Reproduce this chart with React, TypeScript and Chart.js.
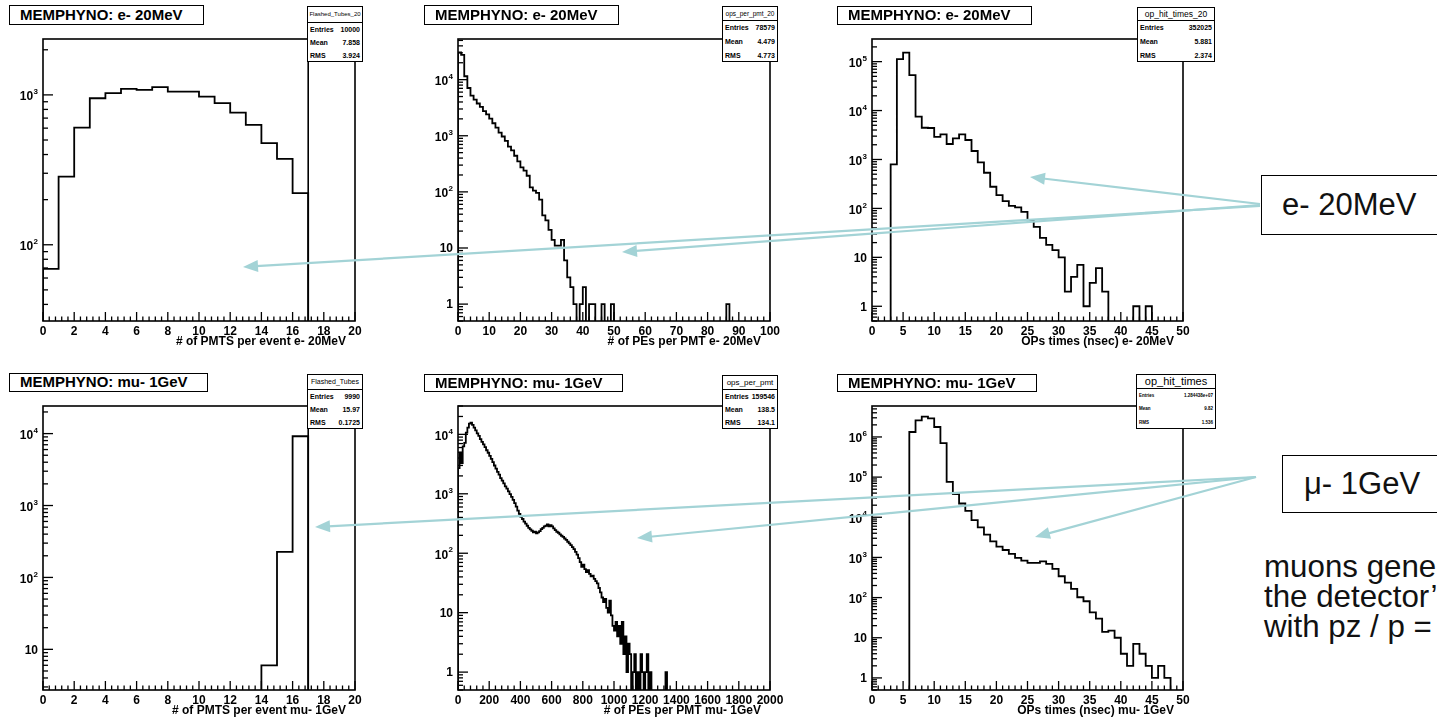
import React, { useEffect, useRef } from 'react';
import { Chart, registerables } from 'chart.js';

Chart.register(...registerables);

const FONT = '"Liberation Sans", Arial, Helvetica, sans-serif';

// ---------------- data (bin contents) ----------------
// # of PMTS per event, e- 20MeV : bins of width 1 from 0 to 20
const pmtsE20 = [69, 285, 605, 950, 1026, 1096, 1080, 1125, 1052, 1052, 975, 880, 762, 631, 476, 374, 221, 0, 0, 0];

// # of PEs per PMT, e- 20MeV : bins of width 1 from 0 to 100
const pesE20 = [
  30500, 27700, 11500, 7100, 5200, 4400, 3760, 3280, 2750, 2400,
  2020, 1670, 1400, 1140, 970, 810, 640, 550, 440, 350,
  273, 240, 194, 120, 105, 96, 73, 38, 31, 21,
  14, 11, 11, 14, 6, 3, 2, 1, 0, 1,
  2, 0, 1, 1, 0, 0, 1, 0, 0, 1,
  0, 0, 0, 0, 0, 0, 0, 0, 0, 0,
  0, 0, 0, 0, 0, 0, 0, 0, 0, 0,
  0, 0, 0, 0, 0, 0, 0, 0, 0, 0,
  0, 0, 0, 0, 0, 0, 1, 0, 0, 0,
  0, 0, 0, 0, 0, 0, 0, 0, 0, 0,
];

// OPs times (nsec), e- 20MeV : bins of width 1 from 0 to 50
const timesE20 = [
  0, 0, 0, 792, 112000, 153000, 53000, 7500, 4450, 4400,
  2900, 3260, 2070, 2700, 3260, 2500, 1490, 871, 535, 277,
  187, 141, 113, 105, 85, 57, 42, 25, 18, 14,
  10, 2, 4, 7, 1, 3, 6, 2, 0, 0,
  0, 0, 1, 0, 1, 0, 0, 0, 0, 0,
];

// # of PMTS per event, mu- 1GeV : bins of width 1 from 0 to 20
const pmtsMu1 = [0, 0, 0, 0, 0, 0, 0, 0, 0, 0, 0, 0, 0, 0, 6, 227, 9180, 0, 0, 0];

// # of PEs per PMT, mu- 1GeV : bins of width 10 from 0 to 2000
const pesMu1 = [
  2700, 4900, 3300, 6300, 7200, 10700, 13000, 15200, 15800, 14400,
  13000, 11700, 10400, 9400, 8300, 7500, 6800, 6100, 5400, 4900,
  4350, 3870, 3400, 2990, 2650, 2330, 2100, 1840, 1660, 1500,
  1330, 1220, 1100, 990, 890, 790, 695, 610, 520, 460,
  410, 377, 340, 314, 290, 268, 252, 239, 224, 230,
  215, 224, 236, 255, 268, 283, 290, 306, 283, 298,
  283, 262, 245, 230, 221, 207, 197, 189, 177, 168,
  156, 146, 137, 127, 117, 105, 95, 83, 71, 59,
  64, 54, 48, 52, 45, 41, 42, 37, 34, 31,
  26, 22, 18, 15, 17, 12, 10, 16, 9, 6,
  5, 7, 4, 6, 3, 7, 2, 4, 1, 3,
  2, 0, 1, 2, 0, 1, 0, 2, 1, 0,
  1, 2, 0, 1, 0, 0, 0, 0, 0, 0,
  0, 0, 0, 1, 0, 0, 0, 0, 0, 0,
  0, 0, 0, 0, 0, 0, 0, 0, 0, 0,
  0, 0, 0, 0, 0, 0, 0, 0, 0, 0,
  0, 0, 0, 0, 0, 0, 0, 0, 0, 0,
  0, 0, 0, 0, 0, 0, 0, 0, 0, 0,
  0, 0, 0, 0, 0, 0, 0, 0, 0, 0,
  0, 0, 0, 0, 0, 0, 0, 0, 0, 0,
];

// OPs times (nsec), mu- 1GeV : bins of width 1 from 0 to 50
const timesMu1 = [
  0, 0, 0, 0, 0, 0, 1330000, 2600000, 3200000, 2900000,
  1770000, 700000, 76000, 38000, 22000, 14500, 8500, 5600, 3700, 2500,
  1850, 1530, 1220, 970, 834, 730, 730, 800, 690, 518,
  340, 237, 165, 102, 81, 43, 30, 14, 15, 10,
  4, 2, 7, 4, 2, 1, 2, 1, 0, 0,
];

// text content
const panelTitles = [
  'MEMPHYNO: e- 20MeV', 'MEMPHYNO: e- 20MeV', 'MEMPHYNO: e- 20MeV',
  'MEMPHYNO: mu- 1GeV', 'MEMPHYNO: mu- 1GeV', 'MEMPHYNO: mu- 1GeV',
];
const xTitles = [
  '# of PMTS per event e- 20MeV', '# of PEs per PMT e- 20MeV', 'OPs times (nsec) e- 20MeV',
  '# of PMTS per event mu- 1GeV', '# of PEs per PMT mu- 1GeV', 'OPs times (nsec) mu- 1GeV',
];
const statNames = ['Flashed_Tubes_20', 'ops_per_pmt_20', 'op_hit_times_20', 'Flashed_Tubes', 'ops_per_pmt', 'op_hit_times'];
const statEntries = ['10000', '78579', '352025', '9990', '159546', '1.284438e+07'];
const statMeans = ['7.858', '4.479', '5.881', '15.97', '138.5', '9.82'];
const statRms = ['3.924', '4.773', '2.374', '0.1725', '134.1', '1.536'];
const binValues = [pmtsE20, pesE20, timesE20, pmtsMu1, pesMu1, timesMu1];
const binWidths = [1, 1, 1, 1, 10, 1];
const xRanges = [[0, 20], [0, 100], [0, 50], [0, 20], [0, 2000], [0, 50]];
const xMajorSteps = [2, 10, 5, 2, 200, 5];
const xMinorSteps = [0.4, 2, 1, 0.4, 40, 1];
const yRanges = [[31, 2360], [0.5, 53000], [0.5, 290000], [2.72, 24200], [0.5, 30000], [0.5, 5900000]];
const markerXs = [17, null, null, 17, null, null];

// annotation text
const particleLabels = ['e- 20MeV', 'μ- 1GeV'];
const noteLines = ['muons gene', 'the detector’', 'with pz / p ='];

// ---------------- layout (page pixels) ----------------
const frames = [
  [43, 39, 355, 321], [458, 39, 770, 321], [872, 39, 1183, 321],
  [43, 406, 355, 690], [458, 406, 770, 690], [872, 406, 1183, 690],
];
const titleBoxes = [
  [9, 5, 195, 20], [424, 5, 195, 20], [837, 6, 195, 19],
  [9, 373, 199, 19], [424, 374, 199, 18], [837, 374, 200, 18],
];
// l, t, w, h, separator height, name font, row font
const statBoxes = [
  [307, 6, 56, 56, 15, 6, 7], [722, 6, 56, 56, 13, 6.5, 7], [1137, 7, 78, 55, 12, 8.5, 7],
  [307, 374, 56, 55, 14, 7, 7], [722, 375, 56, 54, 13, 8, 7], [1136, 374, 80, 55, 13, 11, 4.5],
];

const PAD_T = 16, PAD_R = 20, Y_W = 50, X_H = 34;

function drawLogLabel(ctx: CanvasRenderingContext2D, e: number, right: number, py: number) {
  ctx.textBaseline = 'middle';
  ctx.textAlign = 'right';
  if (e === 0 || e === 1) {
    ctx.font = `bold 12px ${FONT}`;
    ctx.fillText(e === 0 ? '1' : '10', right, py + 1);
    return;
  }
  ctx.font = `bold 8px ${FONT}`;
  const es = String(e);
  const ew = ctx.measureText(es).width;
  ctx.fillText(es, right, py - 3);
  ctx.font = `bold 12px ${FONT}`;
  ctx.fillText('10', right - ew - 0.5, py + 2);
}

function histPoints(bins: number[], lo: number, w: number, floor: number) {
  const pts: { x: number; y: number }[] = [{ x: lo, y: floor }];
  bins.forEach((v, i) => pts.push({ x: lo + i * w, y: v > 0 ? v : floor }));
  const last = bins[bins.length - 1];
  pts.push({ x: lo + bins.length * w, y: last > 0 ? last : floor });
  pts.push({ x: lo + bins.length * w, y: floor });
  return pts;
}

function Panel({ i }: { i: number }) {
  const ref = useRef<HTMLCanvasElement>(null);
  const [l, t, r, b] = frames[i];
  const cw = r - l + Y_W + PAD_R;
  const ch = b - t + PAD_T + X_H;

  useEffect(() => {
    const [xMin, xMax] = xRanges[i];
    const [yMin, yMax] = yRanges[i];
    const xMajor = xMajorSteps[i];
    const xMinor = xMinorSteps[i];
    const markerX = markerXs[i];
    const xTitle = xTitles[i];

    const rootPlugin = {
      id: 'rootStyle',
      afterDraw(chart: any) {
        const { ctx, chartArea: a } = chart;
        const xs = chart.scales.x;
        const ys = chart.scales.y;
        ctx.save();
        ctx.strokeStyle = '#000';
        ctx.fillStyle = '#000';
        const seg = (x1: number, y1: number, x2: number, y2: number) => {
          ctx.beginPath();
          ctx.moveTo(x1, y1);
          ctx.lineTo(x2, y2);
          ctx.stroke();
        };
        ctx.lineWidth = 1.6;
        if (markerX !== null) {
          const px = xs.getPixelForValue(markerX);
          seg(px, a.top, px, a.bottom);
        }
        ctx.strokeRect(a.left, a.top, a.right - a.left, a.bottom - a.top);
        ctx.lineWidth = 1.3;
        const nMinor = Math.round((xMax - xMin) / xMinor);
        const per = Math.round(xMajor / xMinor);
        for (let k = 0; k <= nMinor; k++) {
          const px = xs.getPixelForValue(xMin + k * xMinor);
          seg(px, a.bottom, px, a.bottom - (k % per === 0 ? 9 : 4.5));
        }
        const e0 = Math.floor(Math.log10(yMin));
        const e1 = Math.ceil(Math.log10(yMax));
        for (let e = e0; e <= e1; e++) {
          for (let m = 1; m <= 9; m++) {
            const v = m * Math.pow(10, e);
            if (v < yMin * 0.999 || v > yMax) continue;
            const py = ys.getPixelForValue(v);
            seg(a.left, py, a.left + (m === 1 ? 10 : 5), py);
            if (m === 1) drawLogLabel(ctx, e, a.left - 5, py);
          }
        }
        ctx.font = `bold 12px ${FONT}`;
        ctx.textAlign = 'right';
        ctx.textBaseline = 'middle';
        ctx.fillText(xTitle, a.right - 9, a.bottom + 21);
        ctx.restore();
      },
    };

    const chart = new Chart(ref.current as HTMLCanvasElement, {
      type: 'line',
      data: {
        datasets: [
          {
            data: histPoints(binValues[i], xMin, binWidths[i], yMin / 1000),
            stepped: 'before',
            borderColor: '#000',
            borderWidth: 1.8,
            pointRadius: 0,
            fill: false,
            tension: 0,
          },
        ],
      },
      options: {
        responsive: false,
        maintainAspectRatio: false,
        animation: false,
        events: [],
        layout: { padding: { top: PAD_T, right: PAD_R, left: 0, bottom: 0 } },
        plugins: { legend: { display: false }, tooltip: { enabled: false } },
        scales: {
          x: {
            type: 'linear',
            min: xMin,
            max: xMax,
            afterFit: (s: any) => { s.height = X_H; },
            grid: { display: false, drawTicks: false },
            border: { display: false },
            ticks: {
              stepSize: xMajor,
              autoSkip: false,
              maxRotation: 0,
              minRotation: 0,
              padding: 3,
              color: '#000',
              font: { family: FONT, size: 12, weight: 'bold' },
              callback: (v: any) => String(v),
            },
          },
          y: {
            type: 'logarithmic',
            min: yMin,
            max: yMax,
            afterFit: (s: any) => { s.width = Y_W; },
            grid: { display: false, drawTicks: false },
            border: { display: false },
            ticks: { display: false },
          },
        },
      } as any,
      plugins: [rootPlugin],
    });
    return () => chart.destroy();
  }, [i]);

  return (
    <canvas
      ref={ref}
      width={cw}
      height={ch}
      style={{ position: 'absolute', left: l - Y_W, top: t - PAD_T, width: cw, height: ch }}
    />
  );
}

function TitleBox({ i }: { i: number }) {
  const [l, t, w, h] = titleBoxes[i];
  return (
    <div
      style={{
        position: 'absolute', left: l, top: t, width: w, height: h, boxSizing: 'border-box',
        border: '1.5px solid #000', background: '#fff', fontFamily: FONT, fontWeight: 'bold',
        fontSize: 15, lineHeight: `${h - 3}px`, paddingLeft: 10, whiteSpace: 'nowrap', overflow: 'hidden',
      }}
    >
      {panelTitles[i]}
    </div>
  );
}

function StatsBox({ i }: { i: number }) {
  const [l, t, w, h, sep, nameSize, rowSize] = statBoxes[i];
  const rowH = (h - sep - 2) / 3;
  const rows = [['Entries', statEntries[i]], ['Mean', statMeans[i]], ['RMS', statRms[i]]];
  return (
    <div
      style={{
        position: 'absolute', left: l, top: t, width: w, height: h, boxSizing: 'border-box',
        border: '1.4px solid #000', background: '#fff', fontFamily: FONT, overflow: 'hidden',
      }}
    >
      <div
        style={{
          height: sep, borderBottom: '1px solid #000', fontSize: nameSize, lineHeight: `${sep}px`,
          textAlign: 'center', whiteSpace: 'nowrap', overflow: 'hidden',
        }}
      >
        {statNames[i]}
      </div>
      {rows.map(([k, v]) => (
        <div
          key={k}
          style={{
            height: rowH, display: 'flex', justifyContent: 'space-between', alignItems: 'center',
            padding: '0 2px', fontSize: rowSize, fontWeight: 'bold', whiteSpace: 'nowrap',
          }}
        >
          <span>{k}</span>
          <span>{v}</span>
        </div>
      ))}
    </div>
  );
}

const ARROW_COLOR = '#a3d3d6';
const arrowLines = [
  [1260, 204, 1030, 177],
  [1260, 205, 622, 252],
  [1260, 206, 243, 267],
  [1256, 477, 315, 527],
  [1256, 477, 637, 538],
  [1256, 477, 1035, 537],
];

function Arrows() {
  return (
    <svg width={1437} height={720} style={{ position: 'absolute', left: 0, top: 0, pointerEvents: 'none' }}>
      {arrowLines.map(([x1, y1, x2, y2], k) => {
        const dx = x2 - x1, dy = y2 - y1;
        const L = Math.hypot(dx, dy);
        const ux = dx / L, uy = dy / L;
        const len = 15, half = 6;
        const bx = x2 - ux * len, by = y2 - uy * len;
        const px = -uy, py = ux;
        const head = `${x2},${y2} ${bx + px * half},${by + py * half} ${bx - px * half},${by - py * half}`;
        return (
          <g key={k}>
            <line x1={x1} y1={y1} x2={bx + ux * 2} y2={by + uy * 2} stroke={ARROW_COLOR} strokeWidth={2.2} />
            <polygon points={head} fill={ARROW_COLOR} />
          </g>
        );
      })}
    </svg>
  );
}

function Annotations() {
  const boxStyle: React.CSSProperties = {
    position: 'absolute', boxSizing: 'border-box', border: '1.5px solid #000', background: '#fff',
    fontFamily: FONT, fontSize: 31, whiteSpace: 'nowrap', color: '#111',
  };
  return (
    <>
      <div style={{ ...boxStyle, left: 1261, top: 175, width: 190, height: 60, lineHeight: '57px', paddingLeft: 20 }}>
        {particleLabels[0]}
      </div>
      <div style={{ ...boxStyle, left: 1282, top: 455, width: 170, height: 58, lineHeight: '55px', paddingLeft: 21 }}>
        {particleLabels[1]}
      </div>
      <div
        style={{
          position: 'absolute', left: 1264, top: 552, fontFamily: FONT, fontSize: 31.3, lineHeight: '29.8px',
          whiteSpace: 'pre', color: '#111',
        }}
      >
        {noteLines.join('\n')}
      </div>
    </>
  );
}

export default function App() {
  const idx = [0, 1, 2, 3, 4, 5];
  return (
    <div
      style={{
        position: 'fixed', left: 0, top: 0, width: 1437, height: 720, overflow: 'hidden', background: '#fff',
      }}
    >
      {idx.map((i) => <Panel key={`p${i}`} i={i} />)}
      {idx.map((i) => <TitleBox key={`t${i}`} i={i} />)}
      {idx.map((i) => <StatsBox key={`s${i}`} i={i} />)}
      <Annotations />
      <Arrows />
    </div>
  );
}
